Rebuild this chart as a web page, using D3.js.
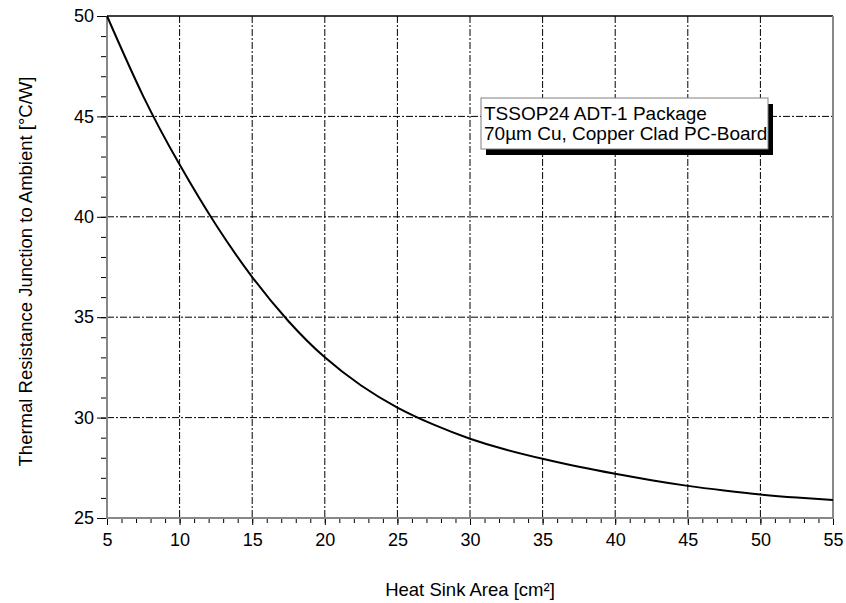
<!DOCTYPE html>
<html>
<head>
<meta charset="utf-8">
<script src="https://cdn.jsdelivr.net/npm/d3@7"></script>
<style>
  body { margin: 0; background: #fff; }
  svg { font-family: "Liberation Sans", Arial, sans-serif; }
</style>
</head>
<body>
<script>
// data
const area = [5, 7.5, 10, 12.5, 15, 17.5, 20, 22.5, 25, 27.5, 30, 32.5, 35, 37.5, 40, 42.5, 45, 47.5, 50, 52.5, 55]
const rth  = [50, 46.0, 42.6, 39.6, 37.0, 34.8, 33.0, 31.6, 30.5, 29.65, 28.95, 28.4, 27.95, 27.55, 27.2, 26.88, 26.6, 26.37, 26.17, 26.02, 25.9]
const xTicks = [5, 10, 15, 20, 25, 30, 35, 40, 45, 50, 55]
const yTicks = [25, 30, 35, 40, 45, 50]
const legendLines = ["TSSOP24 ADT-1 Package", "70µm Cu, Copper Clad PC-Board"]

const width = 846, height = 603
const margin = {top: 16, right: 13, bottom: 85, left: 107}

const svg = d3.select("body").append("svg")
  .attr("width", width).attr("height", height)

const x = d3.scaleLinear().domain([5, 55]).range([margin.left, width - margin.right])
const y = d3.scaleLinear().domain([25, 50]).range([height - margin.bottom, margin.top])

const x0 = x(5), x1 = x(55), y0 = y(25), y1 = y(50)

// grid
const dash = "7,2,2,2"
svg.append("g").selectAll("line").data(xTicks.slice(1, -1)).enter().append("line")
  .attr("x1", d => x(d)).attr("x2", d => x(d)).attr("y1", y1).attr("y2", y0)
  .attr("stroke", "#000").attr("stroke-width", 1).attr("stroke-dasharray", dash)
svg.append("g").selectAll("line").data(yTicks.slice(1, -1)).enter().append("line")
  .attr("y1", d => y(d)).attr("y2", d => y(d)).attr("x1", x0).attr("x2", x1)
  .attr("stroke", "#000").attr("stroke-width", 1).attr("stroke-dasharray", dash)

// axes with minor ticks
const xAxis = svg.append("g").attr("transform", "translate(0," + y0 + ")")
xAxis.call(d3.axisBottom(x).tickValues(d3.range(5, 56, 1)).tickSize(5).tickFormat(""))
xAxis.append("g").call(d3.axisBottom(x).tickValues(xTicks).tickSize(7).tickPadding(8))
const yAxis = svg.append("g").attr("transform", "translate(" + x0 + ",0)")
yAxis.call(d3.axisLeft(y).tickValues(d3.range(25, 51, 1)).tickSize(6).tickFormat(""))
yAxis.append("g").call(d3.axisLeft(y).tickValues(yTicks).tickSize(10).tickPadding(3))
svg.selectAll(".domain").remove()
svg.selectAll(".tick line").attr("stroke", "#000")
svg.selectAll(".tick text").attr("font-size", 18).attr("fill", "#000")
  .attr("font-family", "'Liberation Sans', Arial, sans-serif")

// frame
svg.append("line").attr("x1", x0).attr("x2", x1).attr("y1", y1).attr("y2", y1)
  .attr("stroke", "#000").attr("stroke-width", 1.5)
svg.append("line").attr("x1", x0).attr("x2", x0).attr("y1", y1).attr("y2", y0 + 1)
  .attr("stroke", "#888").attr("stroke-width", 2)
svg.append("line").attr("x1", x1).attr("x2", x1).attr("y1", y1).attr("y2", y0 + 1)
  .attr("stroke", "#888").attr("stroke-width", 2)
svg.append("line").attr("x1", x0 - 1).attr("x2", x1 + 1).attr("y1", y0).attr("y2", y0)
  .attr("stroke", "#888").attr("stroke-width", 2)

// curve
const line = d3.line()
  .x((d, i) => x(area[i]))
  .y(d => y(d))
  .curve(d3.curveNatural)
svg.append("path").attr("d", line(rth))
  .attr("fill", "none").attr("stroke", "#000").attr("stroke-width", 2)

// legend box
const lx = 481, ly = 98, lw = 287, lh = 51
svg.append("rect").attr("x", lx + 5).attr("y", ly + 6).attr("width", lw).attr("height", lh).attr("fill", "#000")
svg.append("rect").attr("x", lx).attr("y", ly).attr("width", lw).attr("height", lh)
  .attr("fill", "#fff").attr("stroke", "#808080").attr("stroke-width", 1)
svg.append("clipPath").attr("id", "lclip").append("rect")
  .attr("x", lx).attr("y", ly).attr("width", lw - 1).attr("height", lh)
svg.append("g").attr("clip-path", "url(#lclip)")
  .selectAll("text").data(legendLines).enter().append("text")
  .attr("x", lx + 3).attr("y", (d, i) => 120 + i * 20)
  .attr("font-size", 19).text(d => d)

// axis titles
svg.append("text").attr("x", (x0 + x1) / 2).attr("y", 596)
  .attr("text-anchor", "middle").attr("font-size", 18.5).text("Heat Sink Area [cm²]")
svg.append("text").attr("transform", "translate(32,271.5) rotate(-90)")
  .attr("text-anchor", "middle").attr("font-size", 18.5)
  .text("Thermal Resistance Junction to Ambient [°C/W]")
</script>
</body>
</html>
